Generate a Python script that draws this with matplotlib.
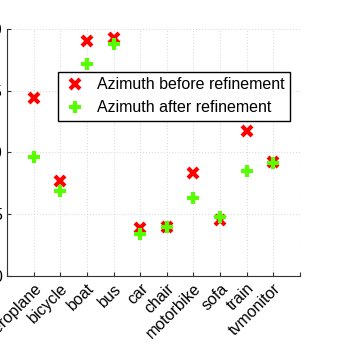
import numpy as np
import matplotlib.pyplot as plt

plt.rcParams['font.family'] = ['Liberation Sans', 'DejaVu Sans']

# classes and azimuth values
categories = ['aeroplane', 'bicycle', 'boat', 'bus', 'car', 'chair',
              'motorbike', 'sofa', 'train', 'tvmonitor']
before = [14.4, 7.7, 19.0, 19.3, 3.9, 4.0, 8.3, 4.5, 11.7, 9.2]
after = [9.6, 6.9, 17.2, 18.8, 3.4, 4.0, 6.3, 4.8, 8.5, 9.15]

x = np.arange(1, len(categories) + 1)

fig = plt.figure(figsize=(3.5, 3.57), dpi=100)
ax = fig.add_axes([0.02, 0.227, 0.837, 0.692])

ax.plot(x, before, 'x', color='red', markersize=6.5, markeredgewidth=3,
        label='Azimuth before refinement')
ax.plot(x, after, '+', color='#55ff00', markersize=9, markeredgewidth=3,
        label='Azimuth after refinement')

ax.set_xlim(0, 11)
ax.set_ylim(0, 20)
ax.set_xticks(np.arange(0, 12))
ax.set_xticklabels([''] + categories + [''], rotation=45, ha='right',
                   rotation_mode='anchor', fontsize=11.5)
ax.set_yticks([0, 5, 10, 15, 20])
ax.tick_params(direction='in', length=3, labelsize=11.5, color='#333333')
ax.grid(True, linestyle=':', color='#dddddd', linewidth=0.8)

ax.spines['top'].set_visible(False)
ax.spines['right'].set_visible(False)
for s in ('left', 'bottom'):
    ax.spines[s].set_color('#333333')

leg = ax.legend(loc='upper right', bbox_to_anchor=(0.966, 0.826),
                borderaxespad=0, fancybox=False, framealpha=1,
                edgecolor='black', fontsize=11.5, handletextpad=0.6,
                handlelength=1.5, borderpad=0.35, labelspacing=0.5)
leg.get_frame().set_linewidth(1.0)

fig.savefig('out.png', dpi=100)
